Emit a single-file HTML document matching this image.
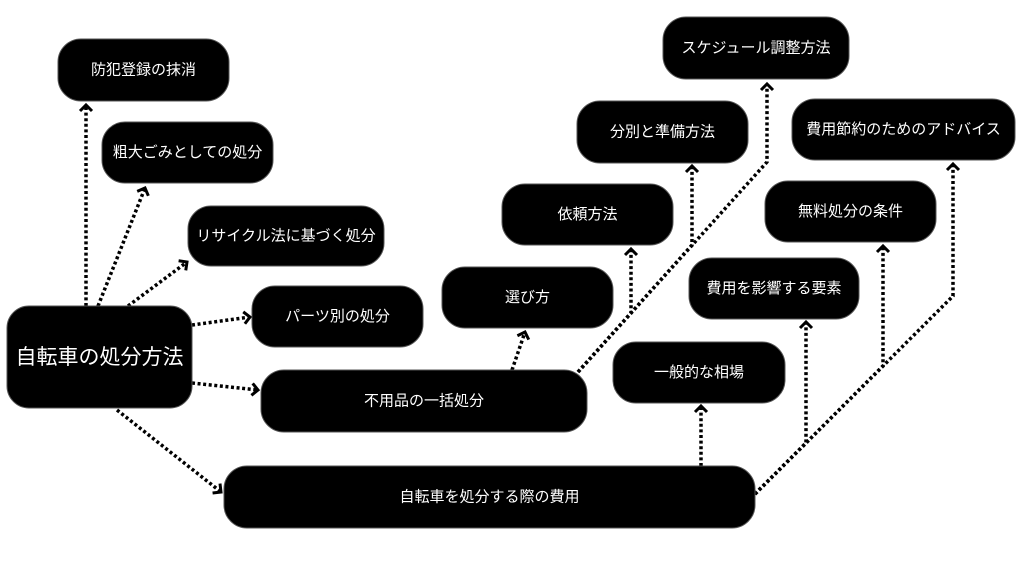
<!DOCTYPE html>
<html>
<head>
<meta charset="utf-8">
<style>
html,body{margin:0;padding:0;background:#fff;}
svg{display:block;}
text{font-family:"Liberation Sans","Noto Sans CJK JP",sans-serif;fill:#fff;}
</style>
</head>
<body>
<svg width="1024" height="574" viewBox="0 0 1024 574" xmlns="http://www.w3.org/2000/svg">
<defs>
<marker id="ah" markerUnits="userSpaceOnUse" markerWidth="16" markerHeight="16" refX="9" refY="8" orient="auto" viewBox="0 0 16 16">
<path d="M3,2 L9,8 L3,14" fill="none" stroke="#000" stroke-width="3"/>
</marker>
</defs>
<rect width="1024" height="574" fill="#fff"/>

<g fill="none" stroke="#000" stroke-width="3.5" stroke-dasharray="3 2.6">
<path d="M86,306 L86,105" marker-end="url(#ah)"/>
<path d="M98,306 L145,188" marker-end="url(#ah)"/>
<path d="M128,306 L187,262" marker-end="url(#ah)"/>
<path d="M192,325 L250,317" marker-end="url(#ah)"/>
<path d="M192,383 L258,390" marker-end="url(#ah)"/>
<path d="M117,410 L221,492" marker-end="url(#ah)"/>
<path d="M512,370 L525,332" marker-end="url(#ah)"/>
<path d="M578,372 L631,313 L631,249" marker-end="url(#ah)"/>
<path d="M578,372 L692,245 L692,166" marker-end="url(#ah)"/>
<path d="M578,372 L767,162 L767,84" marker-end="url(#ah)"/>
<path d="M701,466 L701,406" marker-end="url(#ah)"/>
<path d="M755,494 L806,443 L806,322" marker-end="url(#ah)"/>
<path d="M755,494 L883,366 L883,246" marker-end="url(#ah)"/>
<path d="M755,494 L953,296 L953,164" marker-end="url(#ah)"/>
</g>

<g fill="#000" stroke="#555" stroke-width="1">
<rect x="58" y="39" width="171" height="62" rx="23"/>
<rect x="102" y="122" width="171" height="61" rx="23"/>
<rect x="188" y="206" width="196" height="60" rx="23"/>
<rect x="252" y="286" width="171" height="61" rx="23"/>
<rect x="7" y="306" width="185" height="102" rx="22"/>
<rect x="261" y="370" width="326" height="62" rx="23"/>
<rect x="224" y="466" width="531" height="62" rx="23"/>
<rect x="442" y="267" width="171" height="61" rx="23"/>
<rect x="502" y="184" width="171" height="61" rx="23"/>
<rect x="577" y="101" width="171" height="62" rx="23"/>
<rect x="663" y="17" width="186" height="62" rx="23"/>
<rect x="792" y="99" width="223" height="61" rx="23"/>
<rect x="765" y="181" width="171" height="61" rx="23"/>
<rect x="689" y="258" width="170" height="61" rx="23"/>
<rect x="613" y="342" width="172" height="61" rx="23"/>
</g>

<g font-size="15" text-anchor="middle" dominant-baseline="central">
<text x="143.5" y="70">防犯登録の抹消</text>
<text x="187.5" y="152.5">粗大ごみとしての処分</text>
<text x="286" y="236">リサイクル法に基づく処分</text>
<text x="337.5" y="316.5">パーツ別の処分</text>
<text x="99.5" y="357.5" font-size="21">自転車の処分方法</text>
<text x="424" y="401">不用品の一括処分</text>
<text x="489.5" y="497">自転車を処分する際の費用</text>
<text x="527.5" y="297.5">選び方</text>
<text x="587.5" y="214.5">依頼方法</text>
<text x="662.5" y="132">分別と準備方法</text>
<text x="756" y="48">スケジュール調整方法</text>
<text x="903.5" y="129.5">費用節約のためのアドバイス</text>
<text x="850.5" y="211.5">無料処分の条件</text>
<text x="774" y="288.5">費用を影響する要素</text>
<text x="699" y="372.5">一般的な相場</text>
</g>
</svg>
</body>
</html>
